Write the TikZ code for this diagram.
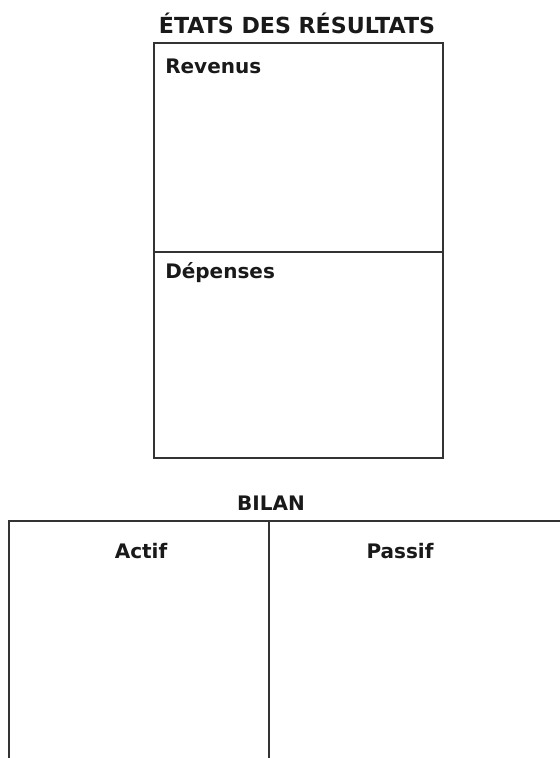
\documentclass[tikz,border=0pt]{standalone}
\usepackage{fontspec}
\setmainfont{DejaVu Sans}
\usetikzlibrary{positioning}

\begin{document}
\begin{tikzpicture}[x=0.75pt,y=-0.75pt]
  \tikzset{
    cadre/.style={line width=1.5pt, draw=black!80},
    titre/.style={font=\bfseries\fontsize{15}{18}\selectfont, text=black!90, inner sep=0pt, anchor=base},
    rubrique/.style={font=\bfseries\fontsize{15}{18}\selectfont, text=black!90, inner sep=0pt},
  }
  \useasboundingbox (0,0) rectangle (560,758);
  \clip (0,0) rectangle (560,758);

  % etats des resultats
  \node[titre, font=\bfseries\fontsize{16.6}{20}\selectfont] (titreER) at (297,33) {ÉTATS DES RÉSULTATS};
  \coordinate (erHG) at (154,43);
  \coordinate (erBD) at (443,458);
  \coordinate (erMG) at (154,252);
  \coordinate (erMD) at (443,252);
  \draw[cadre] (erHG) rectangle (erBD);
  \draw[cadre] (erMG) -- (erMD);
  \node[rubrique, anchor=base west] (revenus) at (165,73) {Revenus};
  \node[rubrique, anchor=base west] (depenses) at (165,278) {Dépenses};

  % bilan
  \node[titre] (titreBilan) at (271,510) {BILAN};
  \coordinate (biHG) at (9,521);
  \coordinate (biHD) at (580,521);
  \coordinate (biBG) at (9,780);
  \coordinate (biMH) at (269,521);
  \coordinate (biMB) at (269,780);
  \draw[cadre] (biBG) -- (biHG) -- (biHD);
  \draw[cadre] (biMH) -- (biMB);
  \node[rubrique, anchor=base] (actif) at (141,558) {Actif};
  \node[rubrique, anchor=base] (passif) at (400,558) {Passif};
\end{tikzpicture}
\end{document}
